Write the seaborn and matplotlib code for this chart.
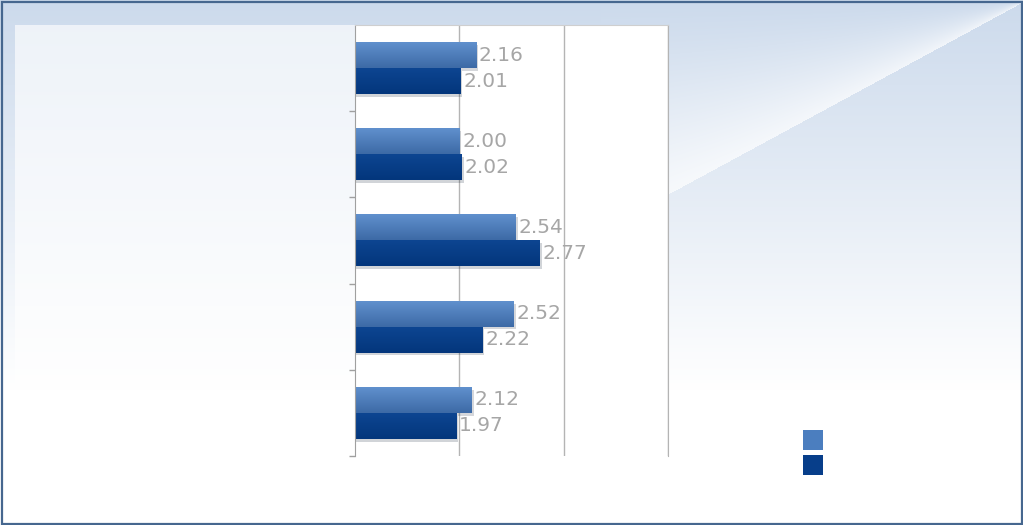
import numpy as np
import pandas as pd
import matplotlib
matplotlib.use("Agg")
import matplotlib.pyplot as plt
import matplotlib.patheffects as pe
from matplotlib.patches import Rectangle
import seaborn as sns

# ---- data ----
categories = ["Item 1", "Item 2", "Item 3", "Item 4", "Item 5"]
series_names = ["Series A", "Series B"]
values_a = [2.16, 2.00, 2.54, 2.52, 2.12]
values_b = [2.01, 2.02, 2.77, 2.22, 1.97]
x_ticks = [2, 3, 4]

colors = ["#4b7ebf", "#073e8a"]
grad_top = ["#6090cd", "#0d4591"]
grad_bot = ["#3d6aa6", "#03367c"]

df = pd.DataFrame({
    "category": categories * 2,
    "series": [series_names[0]] * len(categories) + [series_names[1]] * len(categories),
    "value": values_a + values_b,
})

W, H = 1023, 525
fig = plt.figure(figsize=(W / 100, H / 100), dpi=100)

# ---- background ----
bg = fig.add_axes([0, 0, 1, 1], zorder=-10)
yy, xx = np.mgrid[0:H, 0:W].astype(float)
top = np.array([0.80, 0.855, 0.925])
t = np.clip(yy / 390.0, 0, 1)[..., None]
img = top * (1 - t) + np.ones(3) * t
# glossy sheen above diagonal on the right
x0, y0, x1, y1 = 670.0, 193.0, 993.0, 18.0
slope = (y1 - y0) / (x1 - x0)
yline = y0 + slope * (xx - x0)
above = (yy < yline) & (xx > 600)
f = np.clip(yy / np.maximum(yline, 1), 0, 1)
blend = (f ** 1.6 * 0.7)[..., None]
img = np.where(above[..., None], img * (1 - blend) + blend, img)
bg.imshow(img, aspect="auto", extent=[0, W, H, 0], interpolation="bilinear")
bg.set_xlim(0, W)
bg.set_ylim(H, 0)
bg.axis("off")
# left light panel
bg.add_patch(Rectangle((15, 25), 340, H - 25, facecolor="white", alpha=0.65, edgecolor="none"))
# outer border
bg.add_patch(Rectangle((1.5, 1.5), W - 3, H - 3, facecolor="none", edgecolor="#46678f", linewidth=1.6))

# ---- main axes ----
left, right, ptop, pbot = 355, 668, 25, 456
ax = fig.add_axes([left / W, 1 - pbot / H, (right - left) / W, (pbot - ptop) / H])
ax.set_facecolor("white")

sns.barplot(data=df, y="category", x="value", hue="series", orient="h",
            palette=colors, width=0.6, ax=ax, legend=False, saturation=1,
            edgecolor="none", linewidth=0)

xmin, xmax = 1, 4
ax.set_xlim(xmin, xmax)
ax.set_ylim(len(categories) - 0.5, -0.5)
ax.set_xticks(x_ticks)
ax.set_xticklabels([])
ax.tick_params(axis="x", length=0)
ax.grid(axis="x", color="#b4b4b4", linewidth=1)
ax.set_axisbelow(True)
ax.set_yticks(np.arange(len(categories)) + 0.5)
ax.set_yticklabels([])
ax.tick_params(axis="y", length=4, width=1, color="#a0a0a0", direction="out")
ax.set_xlabel("")
ax.set_ylabel("")
ax.spines["bottom"].set_visible(False)
ax.spines["right"].set_color("#b4b4b4")
ax.spines["left"].set_color("#a0a0a0")
ax.spines["top"].set_color("#cfcfcf")

# gradient fills on bars + labels
for ci, cont in enumerate(ax.containers):
    cmap = matplotlib.colors.LinearSegmentedColormap.from_list("g", [grad_top[ci], grad_bot[ci]])
    for bar in cont:
        bar.set_path_effects([pe.SimplePatchShadow(offset=(1.5, -2), alpha=0.18), pe.Normal()])
        x, y = bar.get_x(), bar.get_y()
        w, h = bar.get_width(), bar.get_height()
        xs = max(x, xmin)
        gimg = np.linspace(0, 1, 50).reshape(-1, 1)
        ax.imshow(gimg, cmap=cmap, aspect="auto", extent=[xs, x + w, y + h, y],
                  zorder=bar.get_zorder() + 0.1, interpolation="bilinear")
    ax.bar_label(cont, fmt="%.2f", padding=2, color="#a6a6a6", fontsize=14.5,
                 zorder=5)
ax.set_xlim(xmin, xmax)
ax.set_ylim(len(categories) - 0.5, -0.5)

# ---- legend keys (no labels) ----
for i, c in enumerate(colors):
    yk = 430 + i * 25
    bg.add_patch(Rectangle((803, yk), 20, 20, facecolor=c, edgecolor="none"))

fig.savefig("out.png", dpi=100)
